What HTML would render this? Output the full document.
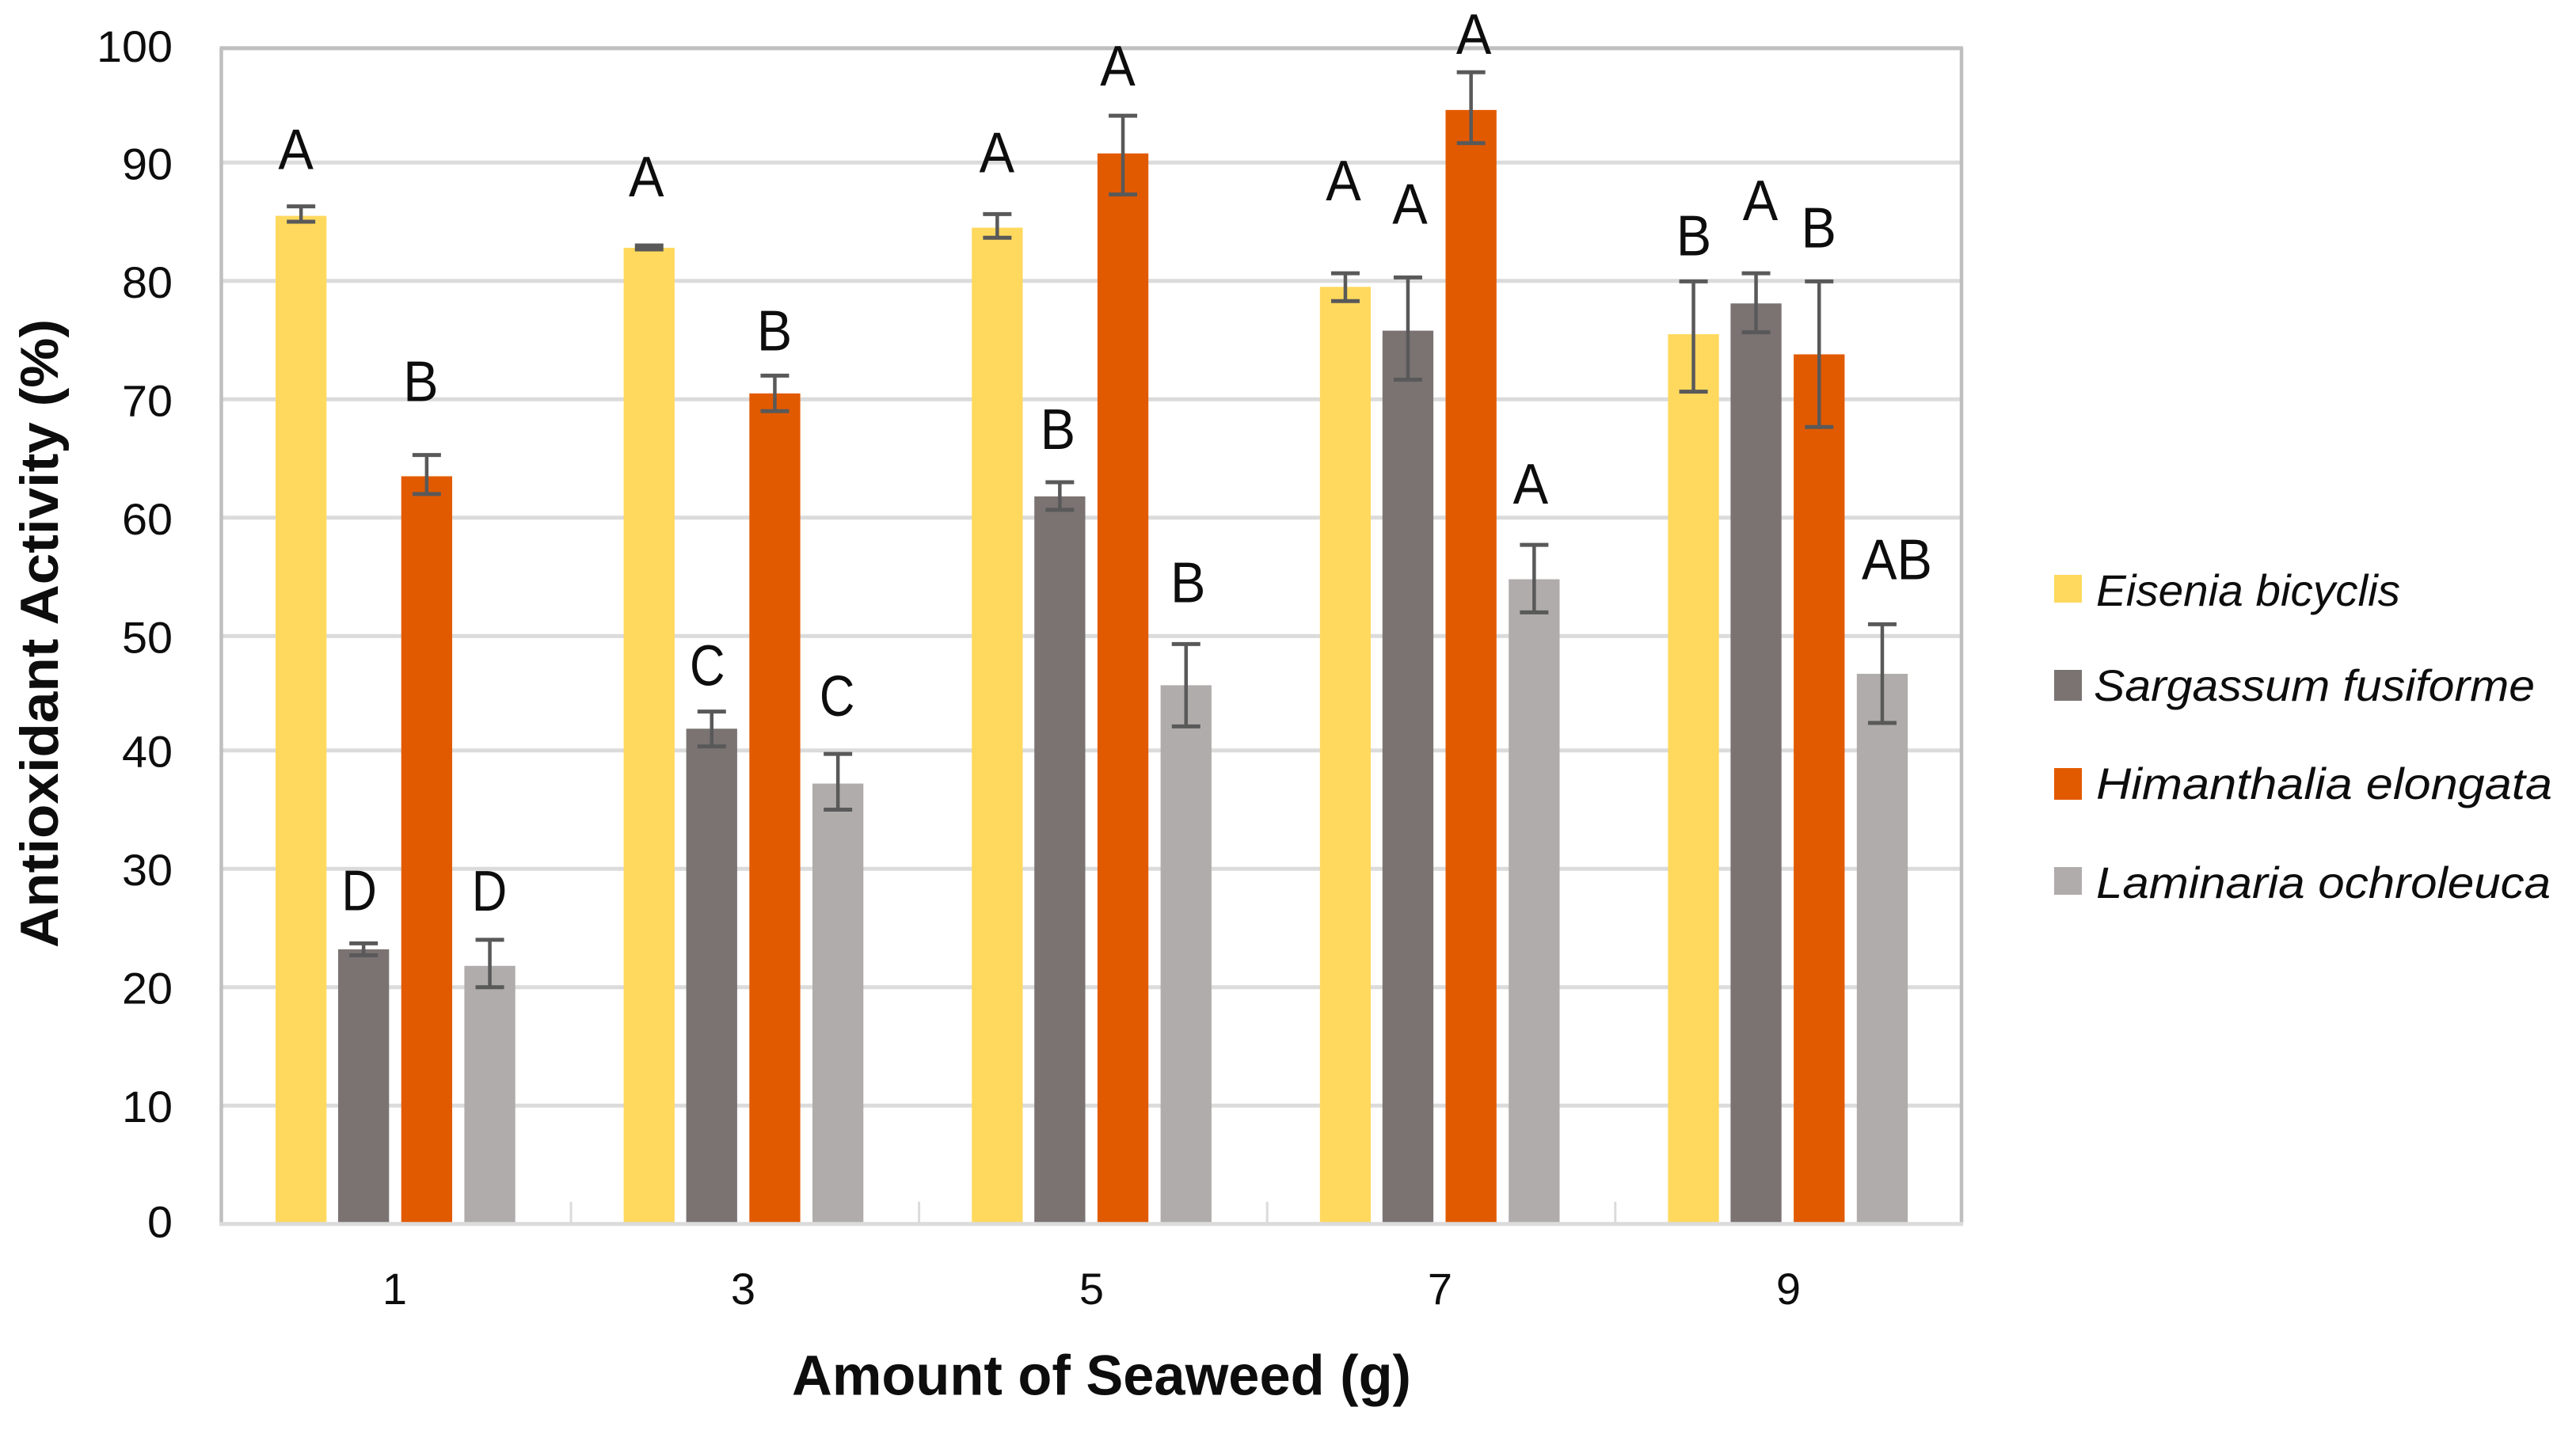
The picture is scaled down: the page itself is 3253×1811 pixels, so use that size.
<!DOCTYPE html>
<html lang="en">
<head>
<meta charset="utf-8">
<title>Antioxidant Activity by Amount of Seaweed</title>
<style>
  html, body { margin: 0; padding: 0; background: #ffffff; }
  body { width: 3253px; height: 1811px; overflow: hidden; }
  svg { display: block; }
  text { font-family: "Liberation Sans", sans-serif; fill: #0d0d0d; }
</style>
</head>
<body>
<svg id="chart" xmlns="http://www.w3.org/2000/svg" width="3253" height="1811" viewBox="0 0 3253 1811">
  <rect x="0" y="0" width="3253" height="1811" fill="#ffffff"></rect>
  <g id="grid"></g>
  <g id="frame"></g>
  <g id="bars"></g>
  <g id="axis"></g>
  <g id="errors"></g>
  <g id="letters"></g>
  <g id="ylabels"></g>
  <g id="xlabels"></g>

  <text transform="translate(73,1197) rotate(-90)" x="0" y="0" font-size="68" font-weight="700" textLength="794" lengthAdjust="spacingAndGlyphs">Antioxidant Activity (%)</text>
  <text x="1000" y="1761.7" font-size="71" font-weight="700" textLength="782" lengthAdjust="spacingAndGlyphs">Amount of Seaweed (g)</text>

  <g>
    <g>
      <rect x="2594" y="726" width="35" height="35" fill="#FFD95E"></rect>
      <text x="2647" y="765" font-size="56" font-style="italic" textLength="384" lengthAdjust="spacingAndGlyphs">Eisenia bicyclis</text>
    </g>
    <g>
      <rect x="2594" y="846" width="35" height="39" fill="#7A7372"></rect>
      <text x="2644" y="885" font-size="56" font-style="italic" textLength="557" lengthAdjust="spacingAndGlyphs">Sargassum fusiforme</text>
    </g>
    <g>
      <rect x="2594" y="970" width="35" height="40" fill="#E25A00"></rect>
      <text x="2647" y="1009" font-size="56" font-style="italic" textLength="576" lengthAdjust="spacingAndGlyphs">Himanthalia elongata</text>
    </g>
    <g>
      <rect x="2594" y="1095" width="35" height="35" fill="#B0ACAB"></rect>
      <text x="2647" y="1134" font-size="56" font-style="italic" textLength="574" lengthAdjust="spacingAndGlyphs">Laminaria ochroleuca</text>
    </g>
  </g>
</svg>

<script>
// ---- chart data ----
const categories = ['1', '3', '5', '7', '9'];
const yTickLabels = [0, 10, 20, 30, 40, 50, 60, 70, 80, 90, 100];
const seriesKeys = ['eisenia', 'sargassum', 'himanthalia', 'laminaria'];

const eiseniaValues = [85.5, 82.8, 84.5, 79.5, 75.5];
const sargassumValues = [23.2, 41.9, 61.8, 75.8, 78.1];
const himanthaliaValues = [63.5, 70.5, 90.8, 94.6, 73.8];
const laminariaValues = [21.8, 37.2, 45.7, 54.8, 46.7];

const eiseniaErrHigh = [86.3, 83.0, 85.65, 80.65, 79.96];
const sargassumErrHigh = [23.7, 43.4, 63.0, 80.3, 80.65];
const himanthaliaErrHigh = [65.3, 72.0, 94.1, 97.9, 79.96];
const laminariaErrHigh = [24.0, 39.7, 49.3, 57.7, 51.0];

const eiseniaErrLow = [85.0, 82.66, 83.65, 78.3, 70.65];
const sargassumErrLow = [22.7, 40.35, 60.66, 71.66, 75.66];
const himanthaliaErrLow = [62.0, 69.0, 87.3, 91.7, 67.66];
const laminariaErrLow = [20.0, 35.0, 42.1, 52.0, 42.4];

const eiseniaLetters = ['A', 'A', 'A', 'A', 'B'];
const sargassumLetters = ['D', 'C', 'B', 'A', 'A'];
const himanthaliaLetters = ['B', 'B', 'A', 'A', 'B'];
const laminariaLetters = ['D', 'C', 'B', 'A', 'AB'];

const valuesBySeries = [eiseniaValues, sargassumValues, himanthaliaValues, laminariaValues];
const highBySeries = [eiseniaErrHigh, sargassumErrHigh, himanthaliaErrHigh, laminariaErrHigh];
const lowBySeries = [eiseniaErrLow, sargassumErrLow, himanthaliaErrLow, laminariaErrLow];
const lettersBySeries = [eiseniaLetters, sargassumLetters, himanthaliaLetters, laminariaLetters];

// ---- hand-placed annotation nudges (the letters were free text boxes) ----
const letterShifts = [
  [-7, -4, -1, -3, 0],
  [-6, -6, -3, 2, 5],
  [-8, -1, -7, 3, -1],
  [-1, -1.5, 2, -5, 18]
];
const letterLifts = [
  [47, 62, 53, 92, 33],
  [42, 33, 42, 68, 67],
  [68, 32, 38, 23, 43],
  [37, 48, 53, 52, 57]
];

// ---- styling ----
const seriesColors = ['#FFD95E', '#7A7372', '#E25A00', '#B0ACAB'];
const NS = 'http://www.w3.org/2000/svg';

// ---- axis functions ----
function clamp01(t) { return Math.max(0, Math.min(1, t)); }
function yScale(v) {
  // the reference's raster has two slightly compressed tick intervals (40-50, 90-100)
  return 1545.7 - 14.95 * v + 5.1 * clamp01((v - 40) / 10) + 5.1 * clamp01((v - 90) / 10);
}
const bandStep = 439.6;
const barWidth = 64.3;
const barOffsets = [0, 79, 158.7, 238.4];
function barLeft(g, s) { return 348 + bandStep * g + barOffsets[s]; }
function barCenter(g, s) { return barLeft(g, s) + barWidth / 2; }
function categoryCenter(g) { return 498.5 + 440 * g; }

function el(tag, attrs, parent, text) {
  const n = document.createElementNS(NS, tag);
  for (const k in attrs) n.setAttribute(k, attrs[k]);
  if (text !== undefined) n.textContent = text;
  parent.appendChild(n);
  return n;
}

const gGrid = document.getElementById('grid');
const gFrame = document.getElementById('frame');
const gBars = document.getElementById('bars');
const gAxis = document.getElementById('axis');
const gErrors = document.getElementById('errors');
const gLetters = document.getElementById('letters');
const gY = document.getElementById('ylabels');
const gX = document.getElementById('xlabels');

const plotLeft = 279.5;
const plotRight = 2477;
const plotTop = yScale(100);
const plotBottom = yScale(0);

// gridlines and y labels
yTickLabels.forEach(function (t) {
  if (t > 0 && t < 100) {
    const line = el('line', { x1: plotLeft, x2: plotRight, y1: yScale(t), y2: yScale(t), stroke: '#DBDBDB', 'stroke-width': 5 }, gGrid);
    
    
  }
  const isEnd = (t === 0 || t === 100);
  const chars = String(t).length;
  const label = el('text', { x: 218, y: yScale(t) + (isEnd ? 17 : 21), 'font-size': 56, 'text-anchor': 'end', textLength: chars * 32, lengthAdjust: 'spacingAndGlyphs' }, gY, String(t));
  
  
});

// frame
const frameTop = el('line', { x1: plotLeft - 2, x2: plotRight + 2, y1: plotTop, y2: plotTop, stroke: '#BFBFBF', 'stroke-width': 5 }, gFrame);


const frameLeft = el('line', { x1: plotLeft, x2: plotLeft, y1: plotTop, y2: plotBottom, stroke: '#BFBFBF', 'stroke-width': 4.5 }, gFrame);


const frameRight = el('line', { x1: plotRight, x2: plotRight, y1: plotTop, y2: plotBottom, stroke: '#BFBFBF', 'stroke-width': 4.5 }, gFrame);



// bars, error bars, letters
seriesKeys.forEach(function (key, s) {
  categories.forEach(function (cat, g) {
    const v = valuesBySeries[s][g];
    const top = yScale(v);
    const bar = el('rect', { x: barLeft(g, s), y: top, width: barWidth, height: plotBottom - top, fill: seriesColors[s] }, gBars);
    
    

    const cx = barCenter(g, s);
    const hi = yScale(highBySeries[s][g]);
    const lo = yScale(lowBySeries[s][g]);
    const err = el('g', { stroke: '#595959', fill: 'none' }, gErrors);
    
    
    el('line', { x1: cx, x2: cx, y1: hi, y2: lo, 'stroke-width': 4.5 }, err);
    el('line', { x1: cx - 18, x2: cx + 18, y1: hi, y2: hi, 'stroke-width': 5 }, err);
    el('line', { x1: cx - 18, x2: cx + 18, y1: lo, y2: lo, 'stroke-width': 5 }, err);

    const letter = lettersBySeries[s][g];
    const lab = el('text', {
      x: cx + letterShifts[s][g] + 0.5,
      y: hi - letterLifts[s][g],
      'font-size': 72,
      'text-anchor': 'middle',
      textLength: 44.5 * letter.length,
      lengthAdjust: 'spacingAndGlyphs'
    }, gLetters, letter);
    
    
  });
});

// x axis line, ticks, labels
const axisLine = el('line', { x1: plotLeft - 2.5, x2: plotRight + 2, y1: plotBottom, y2: plotBottom, stroke: '#DBDBDB', 'stroke-width': 5 }, gAxis);


categories.forEach(function (cat, g) {
  if (g < categories.length - 1) {
    const tx = 721 + bandStep * g;
    const tick = el('line', { x1: tx, x2: tx, y1: plotBottom - 28, y2: plotBottom, stroke: '#DBDBDB', 'stroke-width': 3 }, gAxis);
    
    
  }
  const lab = el('text', { x: categoryCenter(g), y: 1647, 'font-size': 56, 'text-anchor': 'middle' }, gX, cat);
  
  
});
</script>
</body>
</html>
